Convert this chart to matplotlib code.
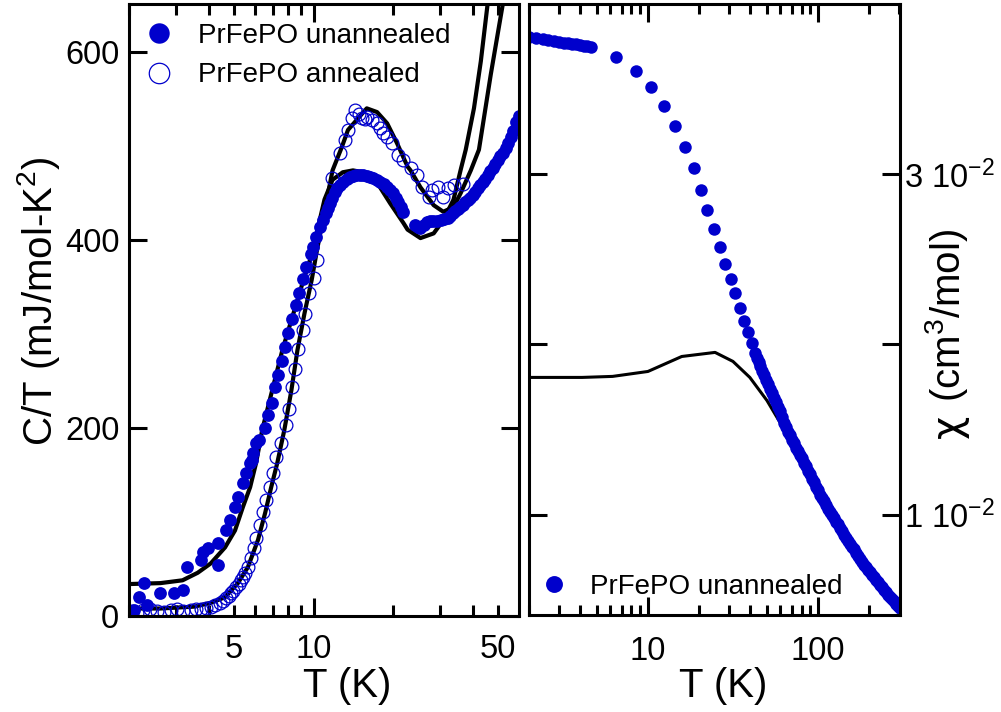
import numpy as np
import matplotlib as mpl
mpl.use('Agg')
import matplotlib.pyplot as plt
from matplotlib.ticker import FixedLocator, FuncFormatter

mpl.rcParams.update({
    'font.family': ['Liberation Sans', 'DejaVu Sans'],
    'mathtext.fontset': 'custom',
    'mathtext.rm': 'Liberation Sans',
    'mathtext.it': 'Liberation Sans:italic',
    'mathtext.default': 'regular',
    'axes.linewidth': 2.2,
})

BLUE = '#0000cc'

# ---- left panel: specific heat C/T vs T ----
T_unann = [2.09, 2.18, 2.28, 2.34, 2.63, 2.97, 3.19, 3.33, 3.74, 3.80, 3.97, 4.34, 4.34,
           4.66, 4.82, 5.04, 5.17, 5.40, 5.55, 5.75, 5.85, 5.90, 6.06, 6.22, 6.56, 6.73,
           6.97, 7.16, 7.35, 7.62, 7.82, 8.03, 8.31, 8.61, 8.84, 9.08, 9.40, 9.74, 9.91,
           10.22, 10.54, 10.82, 11.11, 11.31, 11.51, 11.77, 12.03, 12.30, 12.57, 12.96,
           13.36, 13.72, 14.09, 14.53, 14.98, 15.45, 15.93, 16.36, 16.80, 17.32, 17.86,
           18.42, 18.99, 19.50, 20.03, 20.48, 20.93, 21.39, 21.86,
           24.29, 24.83, 25.39, 26.18, 27.00, 27.72, 28.46, 29.35, 30.26, 31.21, 32.18,
           32.90, 33.63, 34.38, 35.14, 35.92, 36.72, 37.54, 38.37, 39.22, 40.09, 40.98,
           41.89, 42.82, 43.78, 44.75, 45.74, 46.76, 47.80, 48.86, 49.94, 51.05, 52.19,
           53.35, 54.53, 55.74, 56.98, 58.50, 60.07]
CT_unann = [6, 20, 35, 12, 24, 25, 28, 52, 60, 68, 72, 54, 78,
            91, 102, 116, 127, 141, 152, 163, 166, 173, 184, 187, 200, 214,
            227, 244, 256, 271, 286, 301, 316, 331, 344, 358, 371, 385, 392,
            403, 414, 421, 429, 434, 439, 445, 451, 455, 458, 462,
            465, 467, 468, 469, 469, 469, 468, 467, 466, 464, 462,
            459, 456, 453, 450, 445, 440, 435, 430,
            416, 414, 413, 416, 419, 420, 420, 420, 421, 422, 423,
            426, 429, 431, 433, 435, 437, 440, 443, 445, 448, 451,
            455, 458, 462, 465, 469, 473, 477, 481, 485, 489, 493,
            498, 503, 510, 516, 525, 532]

T_ann = [2.05, 2.15, 2.25, 2.41, 2.55, 2.72, 2.88, 3.05, 3.20, 3.42, 3.58, 3.74, 3.90,
         4.08, 4.25, 4.42, 4.55, 4.66, 4.77, 4.87, 4.97, 5.08, 5.20, 5.31, 5.40, 5.50,
         5.64, 5.80, 5.96, 6.06, 6.27, 6.45, 6.62, 6.85, 7.04, 7.22, 7.55, 7.89, 8.10,
         8.31, 8.53, 8.76, 9.08, 9.32, 9.65, 10.0, 10.3, 11.7, 12.6, 13.1, 13.5, 14.0,
         14.3, 14.8, 15.3, 15.7, 16.0, 16.6, 17.4, 17.9, 18.4, 19.0, 19.8, 20.9, 21.9,
         23.3, 24.7, 25.8, 27.3, 28.2, 29.5, 30.9, 32.2, 33.9, 36.7]
CT_ann = [5, 3, 6, 8, 5, 4, 6, 8, 5, 6, 7, 8, 9,
          10, 12, 14, 16, 19, 21, 24, 27, 31, 34, 38, 42, 46,
          52, 62, 72, 83, 97, 111, 123, 137, 152, 169, 184, 203, 220,
          244, 263, 284, 304, 321, 344, 360, 379, 466, 493, 506, 517, 530,
          538, 534, 530, 529, 531, 528, 524, 519, 514, 510, 503, 490, 485,
          477, 469, 456, 446, 453, 456, 446, 455, 458, 460]

# fit curves
T_fitA = [2.0, 2.63, 3.19, 3.64, 4.08, 4.62, 5.04, 5.40, 5.75, 6.06, 6.39, 6.97, 7.62,
          8.31, 9.08, 9.83, 11.0, 11.8, 12.9, 14.1, 15.4, 17.4, 19.5, 21.9, 22.7, 25.4,
          28.5, 31.0, 33.9, 36.1, 37.7, 40.5, 43.0, 45.8]
CT_fitA = [34, 35, 38, 46, 56, 73, 91, 116, 137, 163, 198, 240, 283,
           318, 354, 384, 443, 464, 472, 474, 472, 461, 439, 418, 411, 402,
           407, 421, 443, 475, 496, 540, 590, 655]
T_fitB = [2.0, 2.63, 3.54, 4.08, 4.62, 5.17, 5.64, 6.16, 6.56, 6.91, 7.29, 7.75, 8.24,
          8.69, 9.24, 9.83, 10.3, 11.8, 12.8, 13.5, 14.6, 15.9, 17.4, 19.0, 20.7, 22.7,
          23.3, 25.4, 28.5, 31.0, 33.9, 36.1, 39.4, 42.3, 46.9, 52.1]
CT_fitB = [8, 8, 10, 14, 20, 35, 52, 81, 110, 137, 163, 198, 240,
           283, 322, 357, 389, 474, 499, 517, 528, 540, 536, 524, 503, 478,
           474, 456, 437, 430, 435, 450, 474, 496, 576, 651]

# ---- right panel: susceptibility ----
T_chi = [2.0, 2.2, 2.4, 2.6, 2.8, 3.0, 3.2, 3.4, 3.6, 3.8, 4.0, 4.2, 4.4, 4.6,
         6.49, 8.5, 10.4, 12.4, 14.4, 16.5, 18.6, 20.5, 22.2, 24.4, 26.5, 28.4, 30.8,
         32.5, 34.7, 36.7, 38.7, 40.9, 42.6,
         43.8, 44.7, 45.6, 46.8, 48.1, 49.4, 50.8, 52.2, 53.6, 55.1, 56.6, 58.1, 59.7,
         61.4, 63.1, 64.8, 66.6, 68.4, 70.3, 72.2, 74.2, 76.3, 78.4, 80.6, 82.8, 85.0,
         87.3, 89.7, 92.2, 94.7, 97.3, 100.0, 102.8, 105.6, 108.5, 111.5, 114.5, 117.7,
         120.9, 124.2, 127.6, 131.1, 134.7, 138.4, 142.2, 146.1, 150.1, 154.2, 158.5,
         162.8, 167.3, 171.9, 176.6, 181.5, 186.5, 191.6, 196.8, 202.2, 207.8, 213.5,
         219.4, 225.4, 231.6, 238.0, 244.5, 251.2, 258.1, 265.2, 272.5, 280.0, 287.6,
         295.5, 303.6]
chi = [0.03806, 0.03800, 0.03795, 0.03790, 0.03783, 0.03777, 0.03773, 0.03769, 0.03765,
       0.03762, 0.03759, 0.03755, 0.03751, 0.03747,
       0.03688, 0.03606, 0.03512, 0.03400, 0.03282, 0.03159, 0.03035, 0.02906, 0.02788,
       0.02676, 0.02571, 0.02471, 0.02382, 0.02300, 0.02212, 0.02135, 0.02070, 0.02006,
       0.01947,
       0.01918, 0.01895, 0.01871, 0.01845, 0.01818, 0.01792, 0.01765, 0.01739, 0.01712,
       0.01686, 0.01659, 0.01633, 0.01606, 0.01574, 0.01541, 0.01515, 0.01488, 0.01465,
       0.01441, 0.01418, 0.01394, 0.01374, 0.01353, 0.01330, 0.01306, 0.01283, 0.01259,
       0.01236, 0.01212, 0.01189, 0.01165, 0.01142, 0.01118, 0.01098, 0.01077, 0.01056,
       0.01035, 0.01018, 0.01000, 0.00980, 0.00959, 0.00942, 0.00924, 0.00903, 0.00882,
       0.00865, 0.00847, 0.00830, 0.00812, 0.00795, 0.00777, 0.00759, 0.00741, 0.00724,
       0.00706, 0.00692, 0.00677, 0.00662, 0.00647, 0.00633, 0.00618, 0.00603, 0.00588,
       0.00574, 0.00559, 0.00545, 0.00530, 0.00518, 0.00506, 0.00492, 0.00477, 0.00465,
       0.00453]

T_chifit = [2.0, 4.1, 6.2, 10.0, 15.8, 24.8, 31.6, 39.7, 50.0, 62.2, 80.6, 100.0, 160.0,
            247.0, 300.0]
chi_fit = [0.01806, 0.01806, 0.01812, 0.01841, 0.01929, 0.01953, 0.01900, 0.01806,
           0.01671, 0.01512, 0.01330, 0.01141, 0.00788, 0.00524, 0.00460]

TICK_FS = 23.5
LABEL_FS = 29
LEG_FS = 20
W, H = 1001.0, 712.0

fig = plt.figure(figsize=(10.01, 7.12), dpi=100)
ax1 = fig.add_axes([0.1289, 0.1348, 0.3896, 0.8596])
ax2 = fig.add_axes([0.5285, 0.1362, 0.3706, 0.8582])

# left panel
ax1.plot(T_fitA, CT_fitA, color='k', lw=3.0, zorder=1)
ax1.plot(T_fitB, CT_fitB, color='k', lw=3.0, zorder=1)
ax1.plot(T_unann, CT_unann, 'o', color=BLUE, ms=9.2, mew=0, zorder=2,
         label='PrFePO unannealed')
ax1.plot(T_ann, CT_ann, 'o', mfc='none', mec=BLUE, ms=9.2, mew=0.9, zorder=2,
         label='PrFePO annealed')
ax1.set_xscale('log')
ax1.set_xlim(2, 60)
ax1.set_ylim(0, 651)
ax1.xaxis.set_major_locator(FixedLocator([10]))
ax1.xaxis.set_minor_locator(FixedLocator([2, 3, 4, 5, 6, 7, 8, 9, 20, 30, 40, 50]))
ax1.xaxis.set_major_formatter(FuncFormatter(lambda v, p: '10'))
ax1.xaxis.set_minor_formatter(FuncFormatter(
    lambda v, p: '5' if abs(v - 5) < 1e-6 else ('50' if abs(v - 50) < 1e-6 else '')))
ax1.set_yticks([0, 200, 400, 600])
ax1.tick_params(axis='both', which='both', direction='in', top=True, right=True,
                width=2.2, labelsize=TICK_FS)
ax1.tick_params(axis='x', which='major', length=13, pad=13)
ax1.tick_params(axis='x', which='minor', length=8, pad=13)
ax1.tick_params(axis='y', which='major', length=13, pad=7)
ax1.legend(loc='upper left', frameon=False, fontsize=LEG_FS, numpoints=1,
           markerscale=1.6, handlelength=0.8, handletextpad=1.0,
           borderpad=0.1, borderaxespad=0.58, labelspacing=0.49)

# right panel
ax2.plot(T_chifit, chi_fit, color='k', lw=2.2, zorder=1)
ax2.plot(T_chi, chi, 'o', color=BLUE, ms=9.0, mew=0, zorder=2,
         label='PrFePO unannealed')
ax2.set_xscale('log')
ax2.set_xlim(2, 303)
ax2.set_ylim(0.0041, 0.040)
ax2.xaxis.set_major_locator(FixedLocator([10, 100]))
ax2.xaxis.set_minor_locator(FixedLocator([2, 3, 4, 5, 6, 7, 8, 9, 20, 30, 40, 50, 60,
                                          70, 80, 90, 200, 300]))
ax2.xaxis.set_major_formatter(FuncFormatter(lambda v, p: '%d' % round(v)))
ax2.xaxis.set_minor_formatter(FuncFormatter(lambda v, p: ''))
ax2.set_yticks([0.01, 0.02, 0.03])
ax2.set_yticklabels(['1 10$^{-2}$', '', '3 10$^{-2}$'])
ax2.yaxis.tick_right()
ax2.tick_params(axis='both', which='both', direction='in', top=True, left=True,
                right=True, width=2.2, labelsize=TICK_FS)
ax2.tick_params(axis='x', which='major', length=13, pad=15)
ax2.tick_params(axis='x', which='minor', length=7)
ax2.tick_params(axis='y', which='major', length=13, pad=3, labelleft=False,
                labelright=True)
ax2.legend(loc='lower left', bbox_to_anchor=(0.030, 0.0245), frameon=False,
           fontsize=LEG_FS, numpoints=1, markerscale=1.35, handlelength=1.0,
           handletextpad=0.8, borderpad=0.0, borderaxespad=0.0)

# axis titles placed in figure pixels
fig.text(347 / W, 1 - 686 / H, 'T (K)', fontsize=LABEL_FS, ha='center', va='center')
fig.text(723 / W, 1 - 686 / H, 'T (K)', fontsize=LABEL_FS, ha='center', va='center')
fig.text(39 / W, 1 - 301 / H, 'C/T (mJ/mol-K$^2$)', fontsize=LABEL_FS, rotation=90,
         ha='center', va='center')
# chi in DejaVu (curved Greek chi), rest of the label in the main font
fig.text(960 / W, 1 - 438 / H, '\u03c7', fontsize=LABEL_FS, family='DejaVu Sans',
         rotation=90, rotation_mode='anchor', ha='left', va='baseline')
fig.text(960 / W, 1 - 402 / H, '(cm$^3$/mol)', fontsize=LABEL_FS,
         rotation=90, rotation_mode='anchor', ha='left', va='baseline')

fig.savefig('out.png', dpi=100)
